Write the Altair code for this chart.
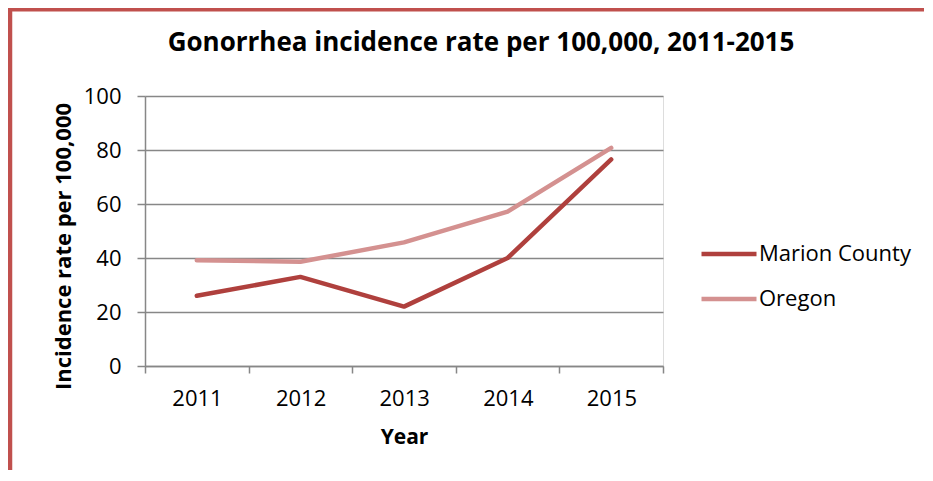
import altair as alt
import pandas as pd

years = [2011, 2012, 2013, 2014, 2015]
marion = [26.0, 33.0, 22.0, 40.0, 76.5]
oregon = [39.2, 38.6, 45.8, 57.2, 80.8]
series = ["Marion County", "Oregon"]
colors = ["#AF403D", "#D49190"]
title_text = "Gonorrhea incidence rate per 100,000, 2011-2015"
y_title = "Incidence rate per 100,000"
x_title = "Year"
x_tick_edges = [2010.5, 2011.5, 2012.5, 2013.5, 2014.5, 2015.5]
y_ticks = [0, 20, 40, 60, 80, 100]

rows = []
for s, vals in zip(series, [marion, oregon]):
    for yr, v in zip(years, vals):
        rows.append({"Year": yr, "Rate": v, "Series": s})
df = pd.DataFrame(rows)

FONT = "Open Sans"
GRID = "#878787"
BORDER = "#C0504D"

lines = alt.Chart(df).mark_line(strokeWidth=4.5, strokeCap="round", strokeJoin="round").encode(
    x=alt.X("Year:Q",
            scale=alt.Scale(domain=[2010.5, 2015.5], nice=False, zero=False),
            axis=alt.Axis(values=x_tick_edges, grid=False, title=x_title,
                          labelExpr="datum.value < 2015 ? format(datum.value + 0.5, 'd') : ''",
                          labelOffset=52, labelFlush=False, labelOverlap=False,
                          tickSize=7, tickColor=GRID, tickWidth=1.5,
                          domainColor=GRID, domainWidth=1.5,
                          labelFont=FONT, labelFontSize=22, labelColor="#000000",
                          labelPadding=15,
                          titleFont=FONT, titleFontSize=21, titleFontWeight="bold",
                          titleColor="#000000", titleX=259, titleY=71,
                          titleBaseline="middle", titleAlign="center")),
    y=alt.Y("Rate:Q",
            scale=alt.Scale(domain=[0, 100], nice=False),
            axis=alt.Axis(values=y_ticks, grid=True, gridColor=GRID, gridWidth=1.5,
                          title=y_title, tickSize=8, tickColor=GRID, tickWidth=1.5,
                          domainColor=GRID, domainWidth=1.5,
                          labelFont=FONT, labelFontSize=22, labelColor="#000000",
                          labelPadding=16,
                          titleFont=FONT, titleFontSize=22, titleFontWeight="bold",
                          titleColor="#000000", titleX=-82, titleY=150,
                          titleAngle=270, titleBaseline="middle", titleAlign="center")),
    color=alt.Color("Series:N",
                    scale=alt.Scale(domain=series, range=colors),
                    legend=alt.Legend(title=None, orient="none", legendX=554, legendY=128,
                                      symbolType="stroke", symbolSize=3025,
                                      symbolStrokeWidth=4.5, rowPadding=4,
                                      labelFont=FONT, labelFontSize=22, labelColor="#000000",
                                      labelOffset=0)),
)

deco = alt.Data(values=[{"k": 1}])
left_border = alt.Chart(deco).mark_rule(color=BORDER, strokeWidth=4.5).encode(
    x=alt.value(-135), y=alt.value(-90), y2=alt.value(400))
top_border = alt.Chart(deco).mark_rule(color=BORDER, strokeWidth=4).encode(
    x=alt.value(-137), x2=alt.value(790), y=alt.value(-86.5))

chart = alt.layer(lines, left_border, top_border).properties(
    width=518, height=270,
    autosize=alt.AutoSizeParams(type="none"),
    padding={"left": 137, "top": 88, "right": 261, "bottom": 104},
    title=alt.TitleParams(title_text, font=FONT, fontSize=26, fontWeight="bold",
                          color="#000000", anchor="middle", frame="group",
                          dx=77, offset=-52),
).configure_view(stroke=None).configure(background="#FFFFFF")

chart.save("out.html", embed_options={"renderer": "svg", "actions": False})
